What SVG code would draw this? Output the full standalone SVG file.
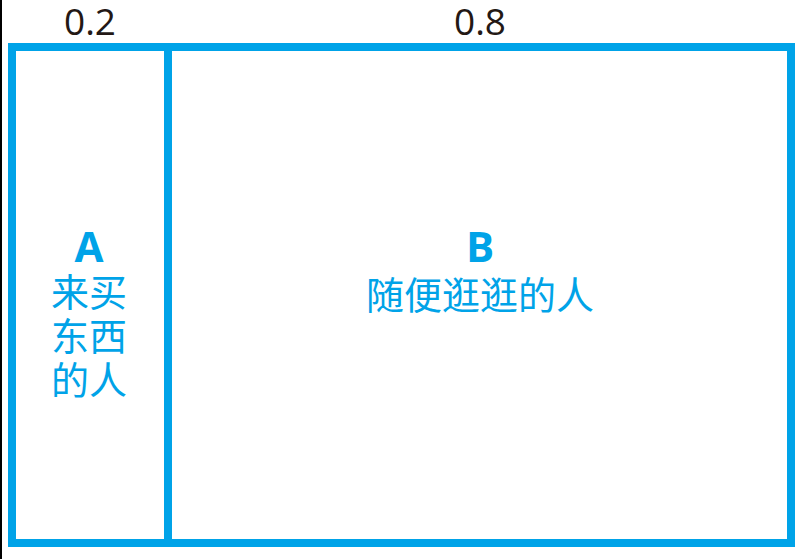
<svg xmlns="http://www.w3.org/2000/svg" width="799" height="559" viewBox="0 0 799 559">
<style>
.box{fill:none;stroke:#00a3e8;stroke-width:8}
.num{font-family:"Open Sans","Noto Sans",sans-serif;font-size:37px;fill:#231815;text-anchor:middle}
.lt{font-family:"Open Sans","Noto Sans",sans-serif;font-weight:bold;font-size:42px;fill:#00a3e8;text-anchor:middle}
.cn{font-family:"Noto Sans CJK SC",sans-serif;font-size:38px;fill:#00a3e8;text-anchor:middle}
</style>
<rect x="0" y="0" width="799" height="559" fill="#ffffff"/>
<rect x="0" y="0" width="2" height="559" fill="#000000"/>
<g id="labels">
<text class="num" x="90" y="35">0.2</text>
<text class="num" x="480" y="35">0.8</text>
</g>
<g id="nodeA">
<rect class="box" x="12" y="47" width="156" height="496"/>
<text class="lt" x="89" y="262">A</text>
<text class="cn" x="89" y="306">来买</text>
<text class="cn" x="89" y="350">东西</text>
<text class="cn" x="89" y="394">的人</text>
</g>
<g id="nodeB">
<rect class="box" x="168" y="47" width="623" height="496"/>
<text class="lt" x="480" y="262">B</text>
<text class="cn" x="480" y="309">随便逛逛的人</text>
</g>
<g id="connectors"></g>
</svg>
